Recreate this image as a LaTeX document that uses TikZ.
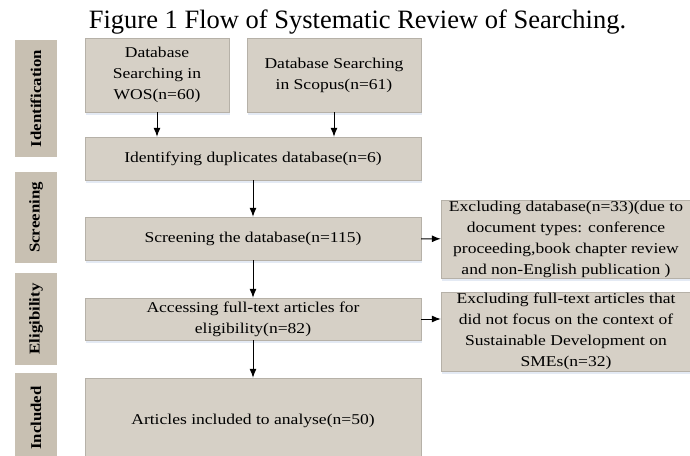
\documentclass[tikz,border=0pt]{standalone}
\usepackage{fontspec}
\setmainfont{Liberation Serif}
\newfontfamily\boxfont{Liberation Serif}[FakeStretch=1.17]
\newfontfamily\stagefont{Liberation Serif}[FakeStretch=1.12]
\usetikzlibrary{shadows,arrows.meta}
\definecolor{boxfill}{RGB}{214,208,198}
\definecolor{stagefill}{RGB}{200,192,178}
\definecolor{shadowblue}{RGB}{228,234,244}
\tikzset{
  >={Latex[length=9pt,width=7pt]},
  stepbox/.style={fill=boxfill, draw=boxfill!85!black, line width=0.4pt,
    align=center, inner sep=0pt,
    drop shadow={fill=shadowblue, shadow xshift=1pt, shadow yshift=-2.5pt, opacity=1},
    font=\boxfont\fontsize{15}{21}\selectfont},
  stagebar/.style={fill=stagefill, inner sep=0pt, rotate=90,
    minimum height=42pt, font=\stagefont\fontsize{15}{17}\bfseries\selectfont},
  flow/.style={->, line width=1pt},
}
\begin{document}
\begin{tikzpicture}[x=1pt,y=-1pt]
      \useasboundingbox (0,0) rectangle (690,455);
      \node[font=\fontsize{26.5}{30}\selectfont, anchor=base] at (357.5,28) (title) {Figure 1 Flow of Systematic Review of Searching.};

      % stages
      \node[stagebar, minimum width=117pt] at (36,98.5) (ident) {Identification};
      \node[stagebar, minimum width=91pt] at (36,217.5) (scr) {Screening};
      \node[stagebar, minimum width=92pt] at (36,319) (elig) {Eligibility};
      \node[stagebar, minimum width=90pt] at (36,418) (inc) {Included};

      % boxes
      \node[stepbox, minimum width=144pt, minimum height=74pt] at (157,75) (wos) {Database\\Searching in\\WOS(n=60)};
      \node[stepbox, minimum width=174pt, minimum height=74pt] at (334,75) (scopus) {Database Searching\\in Scopus(n=61)};
      \node[stepbox, minimum width=336pt, minimum height=43pt] at (253,158.5) (dup) {Identifying duplicates database(n=6)};
      \node[stepbox, minimum width=336pt, minimum height=43pt] at (253,238.5) (screen) {Screening the database(n=115)};
      \node[stepbox, minimum width=336pt, minimum height=42pt] at (253,319) (access) {Accessing full-text articles for\\eligibility(n=82)};
      \node[stepbox, minimum width=336pt, minimum height=85pt] at (253,420.5) (incl) {Articles included to analyse(n=50)};
      \node[stepbox, minimum width=250pt, minimum height=78pt] at (566,239) (excl1) {Excluding database(n=33)(due to\\document types: conference\\proceeding,book chapter review\\and non-English publication )};
      \node[stepbox, minimum width=250pt, minimum height=79pt] at (566,331.5) (excl2) {Excluding full-text articles that\\did not focus on the context of\\Sustainable Development on\\SMEs(n=32)};

      % draw edges
      \draw[flow] (wos) -- (wos |- dup.north);
      \draw[flow] (scopus) -- (scopus |- dup.north);
      \draw[flow] (dup) -- (screen);
      \draw[flow] (screen) -- (access);
      \draw[flow] (access) -- (incl);
      \draw[flow] (screen) -- (excl1);
      \draw[flow] (access.east) -- (access.east -| excl2.west);
  \end{tikzpicture}
\end{document}
